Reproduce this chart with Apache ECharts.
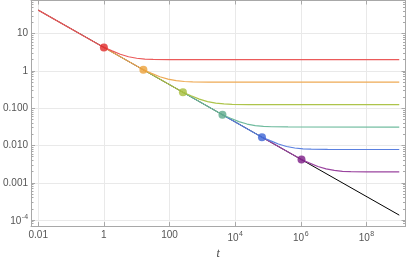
<!DOCTYPE html>
<html><head><meta charset="utf-8">
<script src="https://cdn.jsdelivr.net/npm/echarts@6/dist/echarts.min.js"></script>
<style>html,body{margin:0;padding:0;background:#fff}#c{width:407px;height:265px}</style>
</head><body><div id="c"></div>
<script>
// ---- data ----
const blackX = [0.01, 1e9];
const blackY = [42.8, 1.353e-4];

const redX = [0.01, 1, 1.778, 3.162, 5.623, 10, 17.78, 31.62, 100, 1e9];
const redY = [42.8, 4.28, 3.45, 2.80, 2.40, 2.19, 2.08, 2.04, 2.01, 2.0];

const orangeX = [1, 16, 28.4, 50.6, 90, 160, 284, 506, 1600, 1e9];
const orangeY = [4.28, 1.07, 0.862, 0.700, 0.601, 0.547, 0.521, 0.509, 0.502, 0.5];

const greenX = [16, 256, 455, 809, 1440, 2560, 4550, 8090, 25600, 1e9];
const greenY = [1.07, 0.268, 0.216, 0.175, 0.150, 0.137, 0.130, 0.127, 0.1254, 0.125];

const tealX = [256, 4096, 7280, 12950, 23030, 40960, 72830, 129500, 409600, 1e9];
const tealY = [0.268, 0.0669, 0.0539, 0.0437, 0.0376, 0.0342, 0.0325, 0.0318, 0.0314, 0.03125];

const blueX = [4096, 65536, 116500, 207200, 368500, 655360, 1165000, 2072000, 6553600, 1e9];
const blueY = [0.0669, 0.0167, 0.01348, 0.01094, 0.0094, 0.00855, 0.00814, 0.00795, 0.00784, 0.00781];

const purpleX = [65536, 1048576, 1864000, 3316000, 5896000, 10485760, 18640000, 33160000, 104857600, 1e9];
const purpleY = [0.0167, 0.00418, 0.00337, 0.00273, 0.00235, 0.00214, 0.00203, 0.00199, 0.00196, 0.00195];

const dotX = [1, 16, 256, 4096, 65536, 1048576];
const dotY = [4.28, 1.07, 0.268, 0.0669, 0.0167, 0.00418];

const xTickValues = [0.01, 1, 100, 1e4, 1e6, 1e8];
const xTickLabels = ['0.01', '1', '100', '{b|10}{s|4}', '{b|10}{s|6}', '{b|10}{s|8}'];
const yTickValues = [1e-4, 0.001, 0.01, 0.1, 1, 10];
const yTickLabels = ['{b|10}{s|-4}', '0.001', '0.010', '0.100', '1', '10'];
const xName = 't';

// ---- styles ----
const lineColors = ['#eb5a5a', '#eeaa55', '#adc44a', '#6fbb9e', '#5a80e0', '#9a449f'];
const dotColors  = ['#e02a2a', '#eca13a', '#a6be3c', '#5daa8c', '#3c64d4', '#7c1c86'];
const frameColor = '#a8a8a8';
const gridColor = '#e9e9e9';
const labelColor = '#555';

const X_MIN = Math.pow(10, -2.22), X_MAX = Math.pow(10, 9.19);
const Y_MIN = Math.pow(10, -4.163), Y_MAX = Math.pow(10, 1.89);

function fmt(values, labels) {
  return function (v) {
    for (let i = 0; i < values.length; i++) {
      if (Math.abs(Math.log10(v) - Math.log10(values[i])) < 1e-6) return labels[i];
    }
    return '';
  };
}
const pair = (xs, ys) => xs.map((x, i) => [x, ys[i]]);
const rich = {
  b: { fontSize: 10, fontFamily: 'Liberation Sans', color: labelColor, lineHeight: 13, verticalAlign: 'bottom' },
  s: { fontSize: 7, fontFamily: 'Liberation Sans', color: labelColor, lineHeight: 13, verticalAlign: 'top', padding: [0, 0, 0, 0.5] }
};

const curves = [
  [redX, redY], [orangeX, orangeY], [greenX, greenY],
  [tealX, tealY], [blueX, blueY], [purpleX, purpleY]
];

const series = [{
  type: 'line', data: pair(blackX, blackY), showSymbol: false,
  lineStyle: { color: '#000', width: 1 }, z: 1, silent: true
}];
curves.forEach((c, i) => series.push({
  type: 'line', data: pair(c[0], c[1]), showSymbol: false, smooth: false,
  lineStyle: { color: lineColors[i], width: 1.2 }, z: 2 + (6 - i) * 0.01, silent: true
}));
series.push({
  type: 'scatter', symbolSize: 8, z: 5,
  data: dotX.map((x, i) => ({ value: [x, dotY[i]], itemStyle: { color: dotColors[i] } }))
});

const baseX = {
  type: 'log', logBase: 100, min: X_MIN, max: X_MAX,
  axisLine: { show: true, lineStyle: { color: frameColor, width: 1 } },
  axisTick: { show: true, inside: true, length: 4, lineStyle: { color: frameColor } },
  minorTick: { show: false },
  splitLine: { show: false }
};
const baseY = {
  type: 'log', logBase: 10, min: Y_MIN, max: Y_MAX,
  axisLine: { show: true, lineStyle: { color: frameColor, width: 1 } },
  axisTick: { show: true, inside: true, length: 4, lineStyle: { color: frameColor } },
  minorTick: { show: true, splitNumber: 9, length: 2.5, lineStyle: { color: frameColor } },
  splitLine: { show: false }
};

const option = {
  animation: false,
  backgroundColor: '#fff',
  grid: { left: 26, right: 1.5, top: 0.5, bottom: 30, containLabel: false },
  xAxis: [
    Object.assign({}, baseX, {
      position: 'bottom',
      name: xName, nameLocation: 'middle', nameGap: 20,
      nameTextStyle: { fontStyle: 'italic', fontFamily: 'Liberation Serif', fontSize: 12, color: '#444' },
      axisLabel: { formatter: fmt(xTickValues, xTickLabels), color: labelColor, fontSize: 10,
        fontFamily: 'Liberation Sans', margin: 4, showMinLabel: false, showMaxLabel: false, rich: rich },
      splitLine: { show: true, lineStyle: { color: gridColor, width: 1 } }
    }),
    Object.assign({}, baseX, { position: 'top', axisLabel: { show: false } })
  ],
  yAxis: [
    Object.assign({}, baseY, {
      position: 'left',
      axisLabel: { formatter: fmt(yTickValues, yTickLabels), color: labelColor, fontSize: 10,
        fontFamily: 'Liberation Sans', margin: 3, showMinLabel: false, showMaxLabel: false, rich: rich },
      splitLine: { show: true, lineStyle: { color: gridColor, width: 1 } }
    }),
    Object.assign({}, baseY, { position: 'right', axisLabel: { show: false } })
  ],
  series: series
};

const chart = echarts.init(document.getElementById('c'), null, { renderer: 'canvas' });
chart.setOption(option);
</script>
</body></html>
